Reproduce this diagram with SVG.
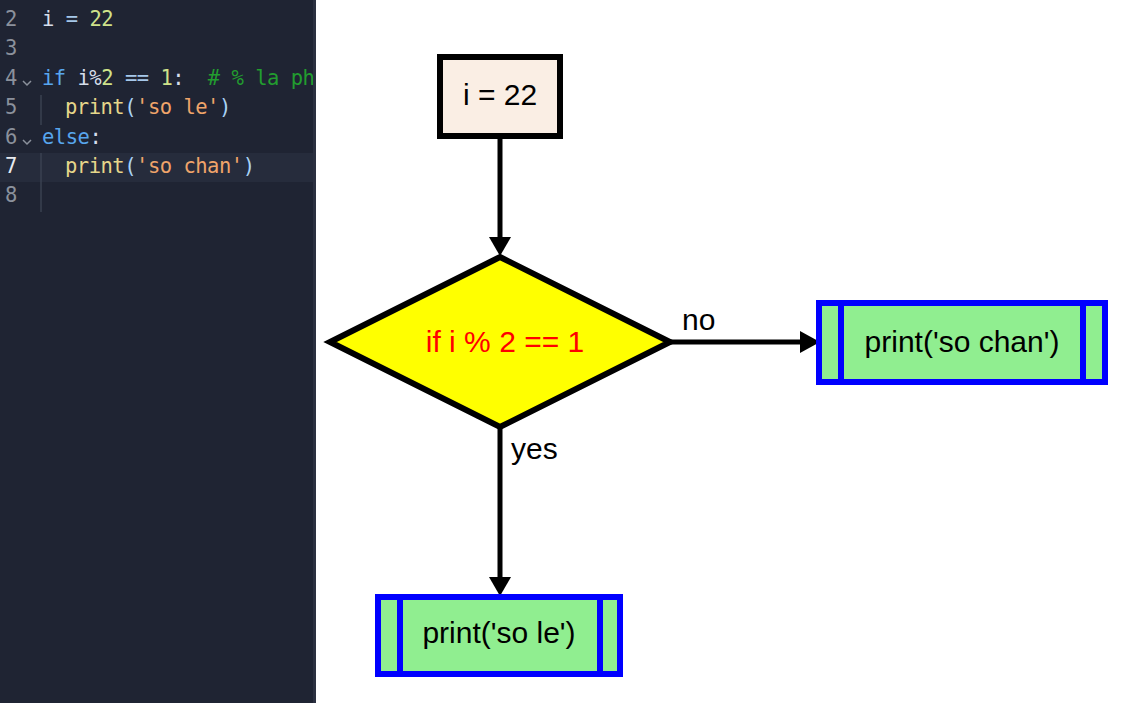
<svg xmlns="http://www.w3.org/2000/svg" width="1133" height="703" viewBox="0 0 1133 703">
<defs>
<style>
.code{font-family:"DejaVu Sans Mono","Liberation Mono",monospace;font-size:20.5px;letter-spacing:-0.5px;white-space:pre}
.ln{fill:#8b919c}
.cur{fill:#e8eaf0}
.id{fill:#d6deeb}
.op{fill:#a6c8ea}
.num{fill:#cfe28a}
.kw{fill:#58a6ee}
.cm{fill:#229d2f}
.fn{fill:#e6d68a}
.pn{fill:#a9d2f4}
.st{fill:#f0a46a}
.guide{stroke:#3a4050;stroke-width:1.5}
.fold{stroke:#8b919c;stroke-width:1.5;fill:none}
.lbl{font-family:"Liberation Sans",Arial,sans-serif;font-size:30px;fill:#000}
.edge{stroke:#000;stroke-width:5;fill:none}
.head{fill:#000}
.proc rect{fill:#90ee90;stroke:#0000ff;stroke-width:6}
.proc line{stroke:#0000ff;stroke-width:6}
</style>
<clipPath id="edclip"><rect x="0" y="0" width="313" height="703"/></clipPath>
</defs>
<rect x="0" y="0" width="1133" height="703" fill="#ffffff"/>
<g id="editor">
<rect x="0" y="0" width="316" height="703" fill="#1f2433"/>
<rect x="313" y="0" width="3" height="703" fill="#2b3040"/>
<rect x="0" y="153" width="313" height="29" fill="#262c3c"/>
<line class="guide" x1="41" y1="95" x2="41" y2="125"/>
<line class="guide" x1="41" y1="153" x2="41" y2="212"/>
<polyline class="fold" points="23,81 27,85 31,81"/>
<polyline class="fold" points="23,140 27,144 31,140"/>
<g class="code" clip-path="url(#edclip)">
<text class="ln" x="5" y="26">2</text>
<text class="ln" x="5" y="55">3</text>
<text class="ln" x="5" y="85">4</text>
<text class="ln" x="5" y="114">5</text>
<text class="ln" x="5" y="144">6</text>
<text class="cur" x="5" y="173">7</text>
<text class="ln" x="5" y="202">8</text>
<text x="42" y="26" xml:space="preserve"><tspan class="id">i</tspan><tspan class="op"> = </tspan><tspan class="num">22</tspan></text>
<text x="42" y="85" xml:space="preserve"><tspan class="kw">if</tspan><tspan class="id"> i%</tspan><tspan class="num">2</tspan><tspan class="op"> == </tspan><tspan class="num">1</tspan><tspan class="id">:  </tspan><tspan class="cm"># % la ph</tspan></text>
<text x="65" y="114" xml:space="preserve"><tspan class="fn">print</tspan><tspan class="pn">(</tspan><tspan class="st">'so le'</tspan><tspan class="pn">)</tspan></text>
<text x="42" y="144" xml:space="preserve"><tspan class="kw">else</tspan><tspan class="id">:</tspan></text>
<text x="65" y="173" xml:space="preserve"><tspan class="fn">print</tspan><tspan class="pn">(</tspan><tspan class="st">'so chan'</tspan><tspan class="pn">)</tspan></text>
</g>
</g>
<g id="connectors">
<line class="edge" x1="500" y1="137" x2="500" y2="240"/>
<polygon class="head" points="489,237 511,237 500,256"/>
<line class="edge" x1="668" y1="342" x2="803" y2="342"/>
<polygon class="head" points="800,331 800,353 820,342"/>
<line class="edge" x1="500" y1="425" x2="500" y2="580"/>
<polygon class="head" points="489,577 511,577 500,596"/>
<text class="lbl" x="682" y="330">no</text>
<text class="lbl" x="511" y="459">yes</text>
</g>
<g id="start">
<rect x="440" y="57" width="120" height="79" fill="#faeee4" stroke="#000" stroke-width="6"/>
<text class="lbl" x="500" y="105" text-anchor="middle">i = 22</text>
</g>
<g id="decision">
<polygon points="500,257 670,342 500,427 330,342" fill="#ffff00" stroke="#000" stroke-width="6"/>
<text class="lbl" x="505" y="352" text-anchor="middle" style="fill:#ff0000">if i % 2 == 1</text>
</g>
<g id="print_chan" class="proc">
<rect x="819" y="303" width="286" height="79"/>
<line x1="841" y1="303" x2="841" y2="382"/>
<line x1="1083" y1="303" x2="1083" y2="382"/>
<text class="lbl" x="962" y="352" text-anchor="middle">print('so chan')</text>
</g>
<g id="print_le" class="proc">
<rect x="378" y="597" width="242" height="77"/>
<line x1="400" y1="597" x2="400" y2="674"/>
<line x1="600" y1="597" x2="600" y2="674"/>
<text class="lbl" x="499" y="643" text-anchor="middle">print('so le')</text>
</g>
</svg>
